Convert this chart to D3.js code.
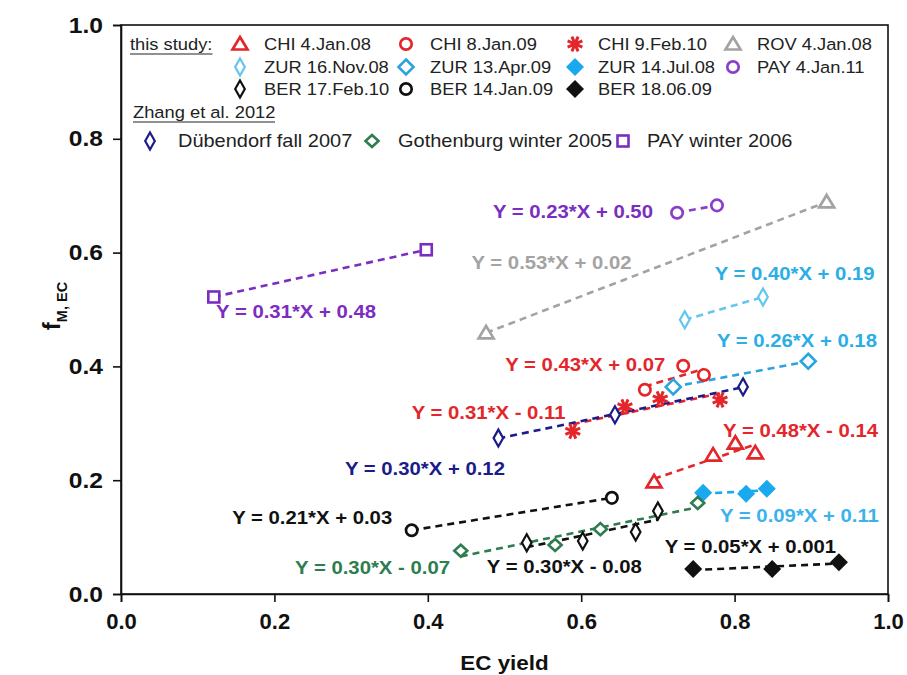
<!DOCTYPE html>
<html><head><meta charset="utf-8">
<script src="https://cdn.jsdelivr.net/npm/d3@7"></script>
<style>body{margin:0;background:#fff} text{font-family:"Liberation Sans",Arial,sans-serif}</style>
</head><body><svg id="c" width="907" height="675"></svg>
<script>
// ---------- data ----------
const xTicks = [0.0, 0.2, 0.4, 0.6, 0.8, 1.0];
const yTicks = [0.0, 0.2, 0.4, 0.6, 0.8, 1.0];

const chi4Jan08  = [[0.695,0.197],[0.772,0.244],[0.801,0.265],[0.827,0.248]];
const chi8Jan09  = [[0.683,0.359],[0.733,0.401],[0.760,0.385]];
const chi9Feb10  = [[0.589,0.286],[0.657,0.329],[0.703,0.343],[0.781,0.341]];
const rov4Jan08  = [[0.476,0.459],[0.920,0.689]];
const zur16Nov08 = [[0.735,0.482],[0.837,0.522]];
const zur13Apr09 = [[0.720,0.364],[0.896,0.409]];
const zur14Jul08 = [[0.759,0.178],[0.815,0.176],[0.842,0.185]];
const pay4Jan11  = [[0.725,0.670],[0.777,0.683]];
const ber17Feb10 = [[0.529,0.090],[0.602,0.093],[0.671,0.109],[0.700,0.146]];
const ber14Jan09 = [[0.379,0.112],[0.640,0.169]];
const ber180609  = [[0.746,0.044],[0.849,0.044],[0.936,0.056]];
const dubendorf2007  = [[0.492,0.274],[0.644,0.315],[0.811,0.364]];
const gothenburg2005 = [[0.443,0.076],[0.566,0.086],[0.625,0.114],[0.752,0.160]];
const payWinter2006  = [[0.121,0.522],[0.398,0.605]];

const seriesNames = ["CHI 4.Jan.08","CHI 8.Jan.09","CHI 9.Feb.10","ROV 4.Jan.08",
  "ZUR 16.Nov.08","ZUR 13.Apr.09","ZUR 14.Jul.08","PAY 4.Jan.11",
  "BER 17.Feb.10","BER 14.Jan.09","BER 18.06.09",
  "Dübendorf fall 2007","Gothenburg winter 2005","PAY winter 2006"];
const seriesData = [chi4Jan08,chi8Jan09,chi9Feb10,rov4Jan08,zur16Nov08,zur13Apr09,zur14Jul08,
  pay4Jan11,ber17Feb10,ber14Jan09,ber180609,dubendorf2007,gothenburg2005,payWinter2006];
const equations = ["Y = 0.48*X - 0.14","Y = 0.43*X + 0.07","Y = 0.31*X - 0.11","Y = 0.53*X + 0.02",
  "Y = 0.40*X + 0.19","Y = 0.26*X + 0.18","Y = 0.09*X + 0.11","Y = 0.23*X + 0.50",
  "Y = 0.30*X - 0.08","Y = 0.21*X + 0.03","Y = 0.05*X + 0.001",
  "Y = 0.30*X + 0.12","Y = 0.30*X - 0.07","Y = 0.31*X + 0.48"];
// equation label anchors (left edge, vertical centre) in data units
const eqAnchors = [[0.785,0.288],[0.501,0.404],[0.379,0.320],[0.457,0.582],
  [0.774,0.564],[0.777,0.446],[0.781,0.139],[0.485,0.673],
  [0.477,0.049],[0.145,0.135],[0.709,0.083],
  [0.292,0.221],[0.227,0.047],[0.124,0.496]];

// ---------- styles ----------
const symbols = ["tri","circle","star","tri","dslim","dwide","dfill","circle","dslim","circle","dfill","dslim","dgreen","square"];
const colors  = ["#E4262B","#E4262B","#E4262B","#A3A3A3","#62C6EE","#2BA4DE","#1AA8EE","#8A3FCB",
  "#111111","#111111","#111111","#1B1B8A","#2E7D50","#7B2DC0"];
const eqColors = ["#E4262B","#E4262B","#E4262B","#A3A3A3","#2AAEE6","#2AAEE6","#3BB2EC","#7B2DC0",
  "#111111","#111111","#111111","#1B1B8A","#2E7D50","#7B2DC0"];
const SX = 1.11; // horizontal text stretch

const svg = d3.select("#c");
const M = {l:121, r:888, t:25, b:594};
const x = d3.scaleLinear().domain([0,1]).range([M.l, M.r]);
const y = d3.scaleLinear().domain([0,1]).range([M.b, M.t]);

function stext(parent, xx, yy, txt, size, opts){
  opts = opts||{};
  const g = parent.append("g").attr("transform",`translate(${xx},${yy}) scale(${opts.sx||SX},1)`);
  const t = g.append("text").attr("x",0).attr("y",0).attr("dy",opts.dy||"0.36em")
    .attr("font-size",size).attr("fill",opts.fill||"#222")
    .attr("text-anchor",opts.anchor||"start");
  if(opts.bold) t.attr("font-weight","bold");
  t.text(txt);
  return t;
}

// frame
svg.append("rect").attr("x",M.l).attr("y",M.t).attr("width",M.r-M.l).attr("height",M.b-M.t)
  .attr("fill","none").attr("stroke","#111").attr("stroke-width",1.6);

// axes
const xAxis = svg.append("g").attr("transform",`translate(0,${M.b})`)
  .call(d3.axisBottom(x).tickValues(xTicks).tickFormat(d3.format(".1f")).tickSize(8).tickPadding(11));
const yAxis = svg.append("g").attr("transform",`translate(${M.l},0)`)
  .call(d3.axisLeft(y).tickValues(yTicks).tickFormat(d3.format(".1f")).tickSize(8).tickPadding(10));
[xAxis,yAxis].forEach(a=>{
  a.select(".domain").attr("stroke","#111").attr("stroke-width",1.6);
  a.selectAll(".tick line").attr("stroke","#111").attr("stroke-width",1.6);
  a.selectAll(".tick text").attr("font-size",22).attr("font-weight","bold").attr("fill","#111")
   .style("font-family",'"Liberation Sans",Arial,sans-serif');
});
yAxis.selectAll(".tick text").attr("transform","scale(1.12,1)").attr("x",-18/1.12);

// axis titles
stext(svg, x(0.5), 663, "EC yield", 20, {bold:true, anchor:"middle", fill:"#111", sx:1.12});
const yl = svg.append("text").attr("transform","translate(60,306) rotate(-90)")
  .attr("text-anchor","middle").attr("font-weight","bold").attr("fill","#111");
yl.append("tspan").attr("font-size",24).text("f");
yl.append("tspan").attr("font-size",14.5).attr("dy",7).text("M, EC");

// marker drawing
function marker(g, sym, color, cx, cy){
  const t = `translate(${cx},${cy})`;
  if(sym==="tri"){
    g.append("path").attr("d","M0,-7L7.5,5.5L-7.5,5.5Z").attr("transform",t)
     .attr("fill","white").attr("stroke",color).attr("stroke-width",2.7).attr("stroke-linejoin","miter");
  } else if(sym==="circle"){
    g.append("circle").attr("cx",cx).attr("cy",cy).attr("r",5.7)
     .attr("fill","white").attr("stroke",color).attr("stroke-width",2.7);
  } else if(sym==="star"){
    const s = g.append("g").attr("transform",t);
    [0,45,90,135].forEach(a=>{
      s.append("line").attr("x1",-8).attr("x2",8).attr("y1",0).attr("y2",0)
       .attr("transform",`rotate(${a+22.5})`).attr("stroke",color).attr("stroke-width",3);
    });
    s.append("circle").attr("r",3.5).attr("fill",color);
  } else if(sym==="dslim"){
    g.append("path").attr("d","M0,-8.5L4.8,0L0,8.5L-4.8,0Z").attr("transform",t)
     .attr("fill","white").attr("stroke",color).attr("stroke-width",2.2);
  } else if(sym==="dwide"){
    g.append("path").attr("d","M0,-7.5L7.5,0L0,7.5L-7.5,0Z").attr("transform",t)
     .attr("fill","white").attr("stroke",color).attr("stroke-width",2.6);
  } else if(sym==="dfill"){
    g.append("path").attr("d","M0,-9L9,0L0,9L-9,0Z").attr("transform",t).attr("fill",color);
  } else if(sym==="dgreen"){
    g.append("path").attr("d","M0,-6L6.5,0L0,6L-6.5,0Z").attr("transform",t)
     .attr("fill","white").attr("stroke",color).attr("stroke-width",2.6);
  } else if(sym==="square"){
    g.append("rect").attr("x",cx-5.5).attr("y",cy-5.5).attr("width",11).attr("height",11)
     .attr("fill","white").attr("stroke",color).attr("stroke-width",2.6);
  }
}

// fit lines
function fit(pts){
  const mx=d3.mean(pts,p=>p[0]), my=d3.mean(pts,p=>p[1]);
  let sxy=0,sxx=0; pts.forEach(p=>{sxy+=(p[0]-mx)*(p[1]-my); sxx+=(p[0]-mx)**2;});
  const b=sxy/sxx, a=my-b*mx;
  const [x0,x1]=d3.extent(pts,p=>p[0]);
  return [[x0,a+b*x0],[x1,a+b*x1]];
}
const lines = svg.append("g");
const marks = svg.append("g");
seriesData.forEach((pts,i)=>{
  const f = fit(pts);
  lines.append("path").attr("d",d3.line().x(d=>x(d[0])).y(d=>y(d[1]))(f))
    .attr("fill","none").attr("stroke",colors[i]).attr("stroke-width",2.6).attr("stroke-dasharray","7,5");
});
seriesData.forEach((pts,i)=>{
  pts.forEach(p=>marker(marks,symbols[i],colors[i],x(p[0]),y(p[1])));
});
// equations
const eqG = svg.append("g");
equations.forEach((e,i)=>{
  stext(eqG, x(eqAnchors[i][0]), y(eqAnchors[i][1]), e, 18.3, {bold:true, fill:eqColors[i], sx:1.11});
});

// legend
const lg = svg.append("g");
function hdr(txt,xx,yy,ulEnd){
  const t = stext(lg, xx, yy, txt, 16.5);
  const w = t.node().getComputedTextLength()*SX;
  lg.append("line").attr("x1",xx).attr("x2",ulEnd||xx+w).attr("y1",yy+10).attr("y2",yy+10).attr("stroke","#222").attr("stroke-width",1.2);
}
hdr("this study:",130,44);
hdr("Zhang et al. 2012",133,112,275);
const colMX=[240,406,575,733], colTX=[264,430,598,757], rowY=[44,67,89];
for(let i=0;i<11;i++){
  const r=Math.floor(i/4), c=i%4;
  marker(lg,symbols[i],colors[i],colMX[c],rowY[r]);
  stext(lg, colTX[c], rowY[r], seriesNames[i], 16.5);
}
const zMX=[150,372,623], zTX=[178,398,647];
for(let k=0;k<3;k++){
  const i=11+k;
  marker(lg,symbols[i],colors[i],zMX[k],141);
  stext(lg, zTX[k], 141, seriesNames[i], 18);
}
</script></body></html>
